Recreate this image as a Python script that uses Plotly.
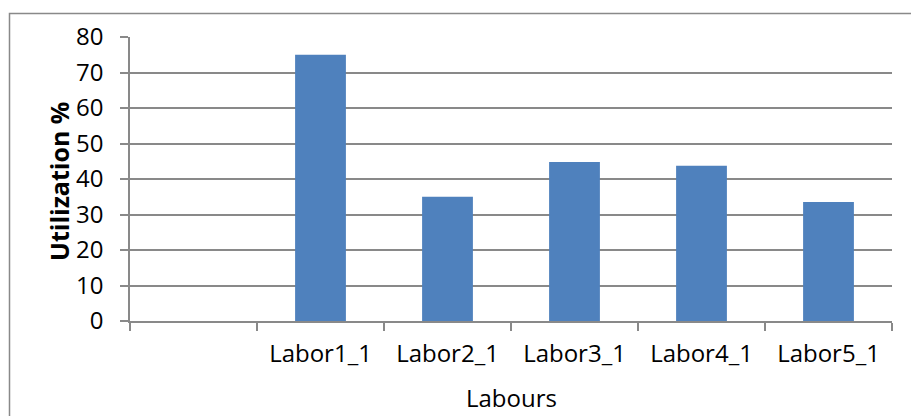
import plotly.graph_objects as go

categories = [" ", "Labor1_1", "Labor2_1", "Labor3_1", "Labor4_1", "Labor5_1"]
utilization = [None, 75, 35, 44.8, 43.7, 33.5]
y_ticks = [0, 10, 20, 30, 40, 50, 60, 70, 80]

W, H = 911, 416
L, R, T, B = 130, 19, 37, 95
pw, ph = W - L - R, H - T - B

FONT = "Open Sans"
GRID = "#898989"
FS = 24

fig = go.Figure(go.Bar(x=categories, y=utilization, marker_color="#4F81BD",
                       marker_line_width=0))

fig.update_layout(
    width=W, height=H,
    margin=dict(l=L, r=R, t=T, b=B, pad=0),
    paper_bgcolor="white", plot_bgcolor="white",
    bargap=0.6,
    showlegend=False,
    font=dict(family=FONT, size=FS, color="black"),
)
fig.update_xaxes(
    type="category", categoryorder="array", categoryarray=categories,
    tickson="boundaries", ticks="outside", ticklen=8, tickwidth=1.5, tickcolor=GRID,
    showline=True, linecolor=GRID, linewidth=1.5, showgrid=False,
    tickfont=dict(size=FS), ticklabelstandoff=10,
)
fig.update_yaxes(
    range=[0, 80], tickvals=y_ticks, ticks="outside", ticklen=8, tickwidth=1.5,
    tickcolor=GRID, showline=True, linecolor=GRID, linewidth=1.5,
    showgrid=True, gridcolor=GRID, gridwidth=1.5, zeroline=False,
    tickfont=dict(size=FS), ticklabelstandoff=12,
)

fig.add_annotation(text="<b>Utilization %</b>", xref="paper", yref="paper",
                   x=(59 - L) / pw, y=(T + ph - 182) / ph, xanchor="center", yanchor="middle",
                   textangle=-90, showarrow=False, font=dict(size=25))
fig.add_annotation(text="Labours", xref="paper", yref="paper",
                   x=0.5, y=-(397 - (T + ph)) / ph, xanchor="center", yanchor="middle",
                   showarrow=False, font=dict(size=FS))

# chart-area border
fig.add_shape(type="rect", xref="paper", yref="paper",
              x0=(9.5 - L) / pw, x1=(W + 20 - L) / pw,
              y0=-(H + 20 - T - ph) / ph, y1=(T + ph - 13.5) / ph,
              line=dict(color=GRID, width=1.5), fillcolor="rgba(0,0,0,0)", layer="below")

fig.write_html("out.html")
